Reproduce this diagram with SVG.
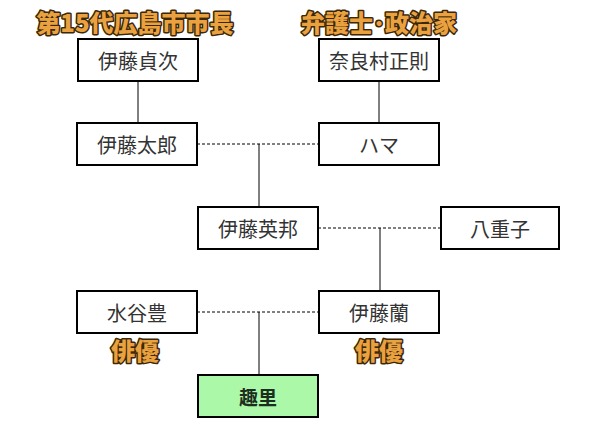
<svg xmlns="http://www.w3.org/2000/svg" width="602" height="435" viewBox="0 0 602 435">
<style>
.box{fill:#fff;stroke:#000;stroke-width:2}
.green{fill:#aaf8a8;stroke:#000;stroke-width:2}
.t{font-family:"Noto Sans CJK JP","Noto Sans",sans-serif;font-size:20px;fill:#333;text-anchor:middle;dominant-baseline:central}
.tb{font-family:"Noto Sans CJK JP","Noto Sans",sans-serif;font-size:19px;font-weight:bold;fill:#1e2e1e;text-anchor:middle;dominant-baseline:central}
.lbl{font-family:"Noto Sans CJK JP","Noto Sans",sans-serif;font-size:24px;font-weight:900;fill:#eaa140;stroke:#3a2808;stroke-width:3;paint-order:stroke;stroke-linejoin:round;text-anchor:middle;dominant-baseline:central}
.solid{stroke:#000;stroke-width:1;fill:none}
.dash{stroke:#000;stroke-width:1;stroke-dasharray:3,2;fill:none}
</style>
<rect width="602" height="435" fill="#fff"/>
<g id="connectors">
<line class="solid" x1="138" y1="81" x2="138" y2="123"/>
<line class="solid" x1="379" y1="81" x2="379" y2="123"/>
<line class="dash" x1="197" y1="144" x2="319" y2="144"/>
<line class="solid" x1="259" y1="144" x2="259" y2="207"/>
<line class="dash" x1="318" y1="228" x2="441" y2="228"/>
<line class="solid" x1="380" y1="228" x2="380" y2="291"/>
<line class="dash" x1="197" y1="312" x2="319" y2="312"/>
<line class="solid" x1="259" y1="312" x2="259" y2="375"/>
</g>
<g id="label-mayor"><text class="lbl" x="135" y="21">第15代広島市市長</text></g>
<g id="label-lawyer"><text class="lbl" x="379" y="21">弁護士･政治家</text></g>
<g id="n-sadaji"><rect class="box" x="78" y="39" width="120" height="42"/><text class="t" x="138" y="60">伊藤貞次</text></g>
<g id="n-narasmura"><rect class="box" x="319" y="39" width="120" height="42"/><text class="t" x="379" y="60">奈良村正則</text></g>
<g id="n-taro"><rect class="box" x="77" y="123" width="120" height="42"/><text class="t" x="137" y="144">伊藤太郎</text></g>
<g id="n-hama"><rect class="box" x="319" y="123" width="120" height="42"/><text class="t" x="379" y="144">ハマ</text></g>
<g id="n-hidekuni"><rect class="box" x="198" y="207" width="120" height="42"/><text class="t" x="258" y="228">伊藤英邦</text></g>
<g id="n-yaeko"><rect class="box" x="441" y="207" width="118" height="42"/><text class="t" x="500" y="228">八重子</text></g>
<g id="n-mizutani"><rect class="box" x="77" y="291" width="120" height="42"/><text class="t" x="137" y="312">水谷豊</text></g>
<g id="n-ran"><rect class="box" x="319" y="291" width="120" height="42"/><text class="t" x="379" y="312">伊藤蘭</text></g>
<g id="label-actor1"><text class="lbl" x="135" y="349">俳優</text></g>
<g id="label-actor2"><text class="lbl" x="379" y="349">俳優</text></g>
<g id="n-shuri"><rect class="green" x="198" y="375" width="120" height="42"/><text class="tb" x="258" y="396">趣里</text></g>
</svg>
